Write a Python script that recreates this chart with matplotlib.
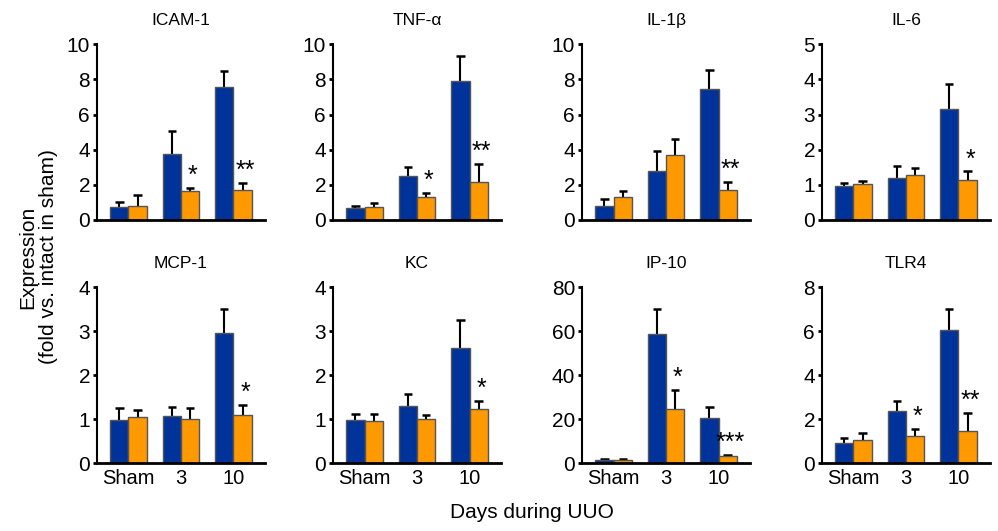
import numpy as np
import matplotlib
matplotlib.use("Agg")
import matplotlib.pyplot as plt

plt.rcParams['font.family'] = ['Liberation Sans', 'DejaVu Sans']

groups = ['Sham', '3', '10']
panels = ['ICAM-1', 'TNF-\u03b1', 'IL-1\u03b2', 'IL-6', 'MCP-1', 'KC', 'IP-10', 'TLR4']
ymax = [10, 10, 10, 5, 4, 4, 80, 8]
ystep = [2, 2, 2, 1, 1, 1, 20, 2]

# means (blue = intact, orange = treated) and top of error bar
blue_mean = [
    [0.76, 3.76, 7.59],
    [0.70, 2.48, 7.89],
    [0.80, 2.79, 7.48],
    [0.97, 1.20, 3.17],
    [0.99, 1.07, 2.95],
    [0.97, 1.30, 2.62],
    [1.5, 58.6, 20.3],
    [0.92, 2.37, 6.04],
]
blue_top = [
    [1.00, 5.07, 8.50],
    [0.82, 2.99, 9.33],
    [1.20, 3.90, 8.55],
    [1.06, 1.54, 3.88],
    [1.25, 1.27, 3.50],
    [1.11, 1.56, 3.26],
    [1.8, 70.2, 25.4],
    [1.15, 2.84, 7.02],
]
orange_mean = [
    [0.80, 1.67, 1.71],
    [0.74, 1.30, 2.15],
    [1.30, 3.70, 1.70],
    [1.03, 1.27, 1.13],
    [1.04, 1.01, 1.09],
    [0.96, 1.00, 1.22],
    [1.5, 24.6, 3.2],
    [1.06, 1.21, 1.47],
]
orange_top = [
    [1.42, 1.84, 2.13],
    [0.95, 1.56, 3.18],
    [1.66, 4.60, 2.19],
    [1.12, 1.48, 1.38],
    [1.20, 1.25, 1.33],
    [1.11, 1.10, 1.42],
    [1.8, 33.3, 3.7],
    [1.35, 1.56, 2.29],
]
stars = [
    ['', '*', '**'],
    ['', '*', '**'],
    ['', '', '**'],
    ['', '', '*'],
    ['', '', '*'],
    ['', '', '*'],
    ['', '*', '***'],
    ['', '*', '**'],
]

blue = '#003399'
orange = '#ff9900'

fig = plt.figure(figsize=(9.98, 5.31), dpi=100)
lefts = [0.0972, 0.3337, 0.5832, 0.8236]
bottoms = [0.5857, 0.128]
w, h = 0.1683, 0.331
x = np.arange(len(groups))
bw = 0.35
cap = 0.08

for i, name in enumerate(panels):
    ax = fig.add_axes([lefts[i % 4], bottoms[i // 4], w, h])
    bm = np.array(blue_mean[i]); om = np.array(orange_mean[i])
    bt = np.array(blue_top[i]); ot = np.array(orange_top[i])
    ax.bar(x - bw / 2, bm, bw, color=blue, edgecolor='#555555', linewidth=1, zorder=2)
    ax.bar(x + bw / 2, om, bw, color=orange, edgecolor='#555555', linewidth=1, zorder=2)
    for xs, m, t in [(x - bw / 2, bm, bt), (x + bw / 2, om, ot)]:
        ax.vlines(xs, m, t, color='k', linewidth=1.5, zorder=1)
        ax.hlines(t, xs - cap, xs + cap, color='k', linewidth=1.8, zorder=1)
    for j, s in enumerate(stars[i]):
        if s:
            ax.annotate(s, (x[j] + bw / 2, ot[j]), xytext=(2, 0),
                        textcoords='offset points', ha='center', va='bottom', fontsize=18)
    ax.set_xlim(-0.6, 2.6)
    ax.set_ylim(0, ymax[i])
    ax.set_yticks(np.arange(0, ymax[i] + 0.01, ystep[i]))
    ax.spines['top'].set_visible(False)
    ax.spines['right'].set_visible(False)
    ax.spines['left'].set_linewidth(1.5)
    ax.spines['bottom'].set_linewidth(2)
    ax.tick_params(axis='y', labelsize=15, width=2, length=3, pad=2)
    ax.tick_params(axis='x', length=0, labelsize=14.5, pad=4)
    if i >= 4:
        ax.set_xticks(x)
        ax.set_xticklabels(groups)
    else:
        ax.set_xticks([])
    ax.set_title(name, fontsize=12.5, pad=14)

fig.text(0.038, 0.516, 'Expression\n(fold vs. intact in sham)', rotation=90,
         ha='center', va='center', fontsize=15, linespacing=1.1)
fig.text(0.533, 0.034, 'Days during UUO', ha='center', va='center', fontsize=15)

fig.savefig('out.png', dpi=100)
